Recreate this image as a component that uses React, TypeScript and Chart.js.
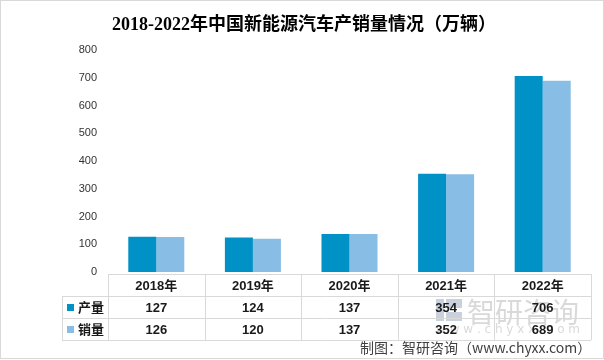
import React, { useEffect, useRef } from "react";
import { Chart, registerables } from "chart.js";

Chart.register(...registerables);

const categories = ["2018年", "2019年", "2020年", "2021年", "2022年"];
const production = [127, 124, 137, 354, 706];
const sales = [126, 120, 137, 352, 689];
const seriesNames = ["产量", "销量"];
const seriesColors = ["#0091C6", "#88BEE5"];
const yTicks = [0, 100, 200, 300, 400, 500, 600, 700, 800];
const title = "2018-2022年中国新能源汽车产销量情况（万辆）";
const footer = "制图：智研咨询（www.chyxx.com）";
const watermark = "智研咨询";
const watermarkUrl = "w w w . c h y x x . c o m";

const CJK = '"Noto Sans CJK SC"';

const overlayPlugin = {
  id: "overlay",
  beforeDraw(chart: any) {
    const ctx = chart.ctx;
    ctx.save();
    ctx.fillStyle = "#ffffff";
    ctx.fillRect(0, 0, chart.width, chart.height);
    ctx.restore();
  },
  afterDraw(chart: any) {
    const ctx = chart.ctx;
    const area = chart.chartArea;
    const left = area.left;
    const right = area.right;
    const n = categories.length;
    const colW = (right - left) / n;
    const rowTop = area.bottom + 2;
    const rowH = 22;
    const legendLeft = 62;
    ctx.save();

    // title
    ctx.fillStyle = "#000000";
    ctx.font = `bold 18px "Liberation Serif", ${CJK}`;
    ctx.textAlign = "center";
    ctx.textBaseline = "middle";
    ctx.fillText(title, chart.width / 2 + 2, 25);

    // watermark
    ctx.fillStyle = "rgba(160,160,160,0.4)";
    ctx.font = `28px ${CJK}`;
    ctx.textAlign = "left";
    ctx.fillText(watermark, 467, 312);
    ctx.font = `12px "DejaVu Sans"`;
    ctx.fillText(watermarkUrl, 436, 330);
    ctx.fillStyle = "rgba(120,140,170,0.4)";
    ctx.fillRect(436, 299, 8, 22);
    ctx.fillRect(446, 299, 16, 9);
    ctx.fillRect(446, 312, 16, 9);

    // table grid
    ctx.strokeStyle = "#d9d9d9";
    ctx.lineWidth = 1;
    ctx.beginPath();
    for (let r = 0; r <= 3; r++) {
      const y = Math.round(rowTop + r * rowH) + 0.5;
      ctx.moveTo(r === 0 ? left : legendLeft, y);
      ctx.lineTo(right, y);
    }
    for (let c = 0; c <= n; c++) {
      const x = Math.round(left + c * colW) + 0.5;
      ctx.moveTo(x, rowTop);
      ctx.lineTo(x, rowTop + 3 * rowH);
    }
    ctx.moveTo(legendLeft + 0.5, rowTop + rowH);
    ctx.lineTo(legendLeft + 0.5, rowTop + 3 * rowH);
    ctx.stroke();

    // header
    const cellFont = `bold 13px "Liberation Sans", ${CJK}`;
    ctx.fillStyle = "#1a1a1a";
    ctx.textAlign = "center";
    ctx.textBaseline = "middle";
    ctx.font = cellFont;
    categories.forEach((c, i) => {
      ctx.fillText(c, left + colW * (i + 0.5), rowTop + rowH / 2 + 1);
    });
    const rows = [production, sales];
    rows.forEach((vals, r) => {
      const yc = rowTop + rowH * (r + 1.5) + 1;
      vals.forEach((v, i) => {
        ctx.fillText(String(v), left + colW * (i + 0.5), yc);
      });
      ctx.fillStyle = seriesColors[r];
      ctx.fillRect(legendLeft + 5, yc - 4, 7, 7);
      ctx.fillStyle = "#1a1a1a";
      ctx.textAlign = "left";
      ctx.font = `bold 13px ${CJK}`;
      ctx.fillText(seriesNames[r], legendLeft + 16, yc - 1);
      ctx.textAlign = "center";
      ctx.font = cellFont;
    });

    // footer
    ctx.fillStyle = "#404040";
    ctx.font = `14px ${CJK}`;
    ctx.textAlign = "left";
    ctx.fillText(footer, 360, 348);

    // frame
    ctx.strokeStyle = "#d9d9d9";
    ctx.strokeRect(0.5, 0.5, chart.width - 1, chart.height - 2);
    ctx.restore();
  },
};

export default function App() {
  const ref = useRef<HTMLCanvasElement | null>(null);
  useEffect(() => {
    if (!ref.current) return;
    const chart = new Chart(ref.current, {
      type: "bar",
      data: {
        labels: categories,
        datasets: [
          {
            label: seriesNames[0],
            data: production,
            backgroundColor: seriesColors[0],
            categoryPercentage: 0.58,
            barPercentage: 1,
          },
          {
            label: seriesNames[1],
            data: sales,
            backgroundColor: seriesColors[1],
            categoryPercentage: 0.58,
            barPercentage: 1,
          },
        ],
      },
      options: {
        animation: false,
        responsive: false,
        maintainAspectRatio: false,
        layout: { padding: { left: 0, right: 13, top: 50, bottom: 88 } },
        plugins: {
          legend: { display: false },
          title: { display: false },
          tooltip: { enabled: false },
        },
        scales: {
          x: { display: false },
          y: {
            min: 0,
            max: 800,
            afterBuildTicks: (s: any) => {
              s.ticks = yTicks.map((v) => ({ value: v }));
            },
            afterFit: (s: any) => {
              s.width = 108;
            },
            grid: { display: false, drawTicks: false },
            border: { display: false },
            ticks: {
              padding: 11,
              color: "#333333",
              font: { size: 11, family: '"Liberation Sans"' },
            },
          },
        },
      },
      plugins: [overlayPlugin],
    });
    return () => chart.destroy();
  }, []);
  return (
    <div style={{ position: "absolute", left: 0, top: 0, width: 604, height: 360 }}>
      <canvas ref={ref} width={604} height={360} style={{ width: 604, height: 360 }} />
    </div>
  );
}
